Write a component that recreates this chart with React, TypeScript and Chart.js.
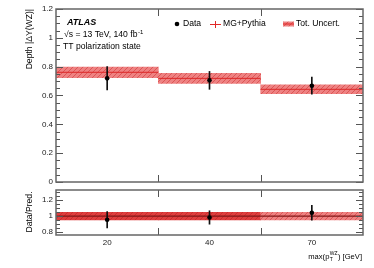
import { useEffect, useRef } from 'react';
import { Chart, registerables } from 'chart.js';
Chart.register(...registerables);

const binLabels = ['20', '40', '70'];
const binEdges = [0, 1, 2, 3];
const predValues = [0.761, 0.719, 0.643];
const predUnc = [0.037, 0.035, 0.031];
const dataValues = [0.719, 0.705, 0.668];
const dataErr = [0.081, 0.062, 0.059];
const ratioValues = [0.953, 0.982, 1.042];
const ratioErr = [0.103, 0.085, 0.095];
const ratioUnc = [0.048, 0.048, 0.048];
const mainTickLabels = ['0', '0.2', '0.4', '0.6', '0.8', '1', '1.2'];
const ratioTickLabels = ['0.8', '1', '1.2'];

const FONT = "'Liberation Sans', Arial, sans-serif";
const W = 374;
const H = 268;

function makePattern(base: string, hatch: string) {
  const c = document.createElement('canvas');
  c.width = 5;
  c.height = 5;
  const g = c.getContext('2d')!;
  g.fillStyle = base;
  g.fillRect(0, 0, 5, 5);
  g.strokeStyle = hatch;
  g.lineWidth = 0.8;
  g.beginPath();
  g.moveTo(0, 5);
  g.lineTo(5, 0);
  g.moveTo(-1, 1);
  g.lineTo(1, -1);
  g.moveTo(4, 6);
  g.lineTo(6, 4);
  g.stroke();
  return g.createPattern(c, 'repeat')!;
}

const centers = binLabels.map((_, i) => (binEdges[i] + binEdges[i + 1]) / 2);

function stepLine(vals: number[]) {
  const pts: { x: number; y: number | null }[] = [];
  vals.forEach((v, i) => {
    pts.push({ x: binEdges[i], y: v });
    pts.push({ x: binEdges[i + 1], y: v });
    pts.push({ x: binEdges[i + 1], y: null });
  });
  return pts;
}

function framePlugin(minorStep: number, majorStep: number) {
  return {
    id: 'frame',
    afterDatasetsDraw(chart: any) {
      const { ctx, chartArea: a, scales } = chart;
      const y = scales.y;
      const x = scales.x;
      ctx.save();
      ctx.strokeStyle = '#555';
      ctx.lineWidth = 1;
      const seg = (x1: number, y1: number, x2: number, y2: number) => {
        ctx.beginPath();
        ctx.moveTo(x1, y1);
        ctx.lineTo(x2, y2);
        ctx.stroke();
      };
      const k0 = Math.ceil(y.min / minorStep - 1e-6);
      const k1 = Math.floor(y.max / minorStep + 1e-6);
      for (let k = k0; k <= k1; k++) {
        const v = k * minorStep;
        const p = Math.round(y.getPixelForValue(v)) + 0.5;
        const r = v / majorStep;
        const isMajor = Math.abs(r - Math.round(r)) < 1e-6;
        const len = isMajor ? 7 : 4;
        seg(a.left, p, a.left + len, p);
        seg(a.right - len, p, a.right, p);
      }
      for (const e of binEdges.slice(1, -1)) {
        const px = Math.round(x.getPixelForValue(e)) + 0.5;
        seg(px, a.top, px, a.top + 7);
        seg(px, a.bottom - 7, px, a.bottom);
      }
      ctx.lineWidth = 1.5;
      ctx.strokeStyle = '#666';
      ctx.strokeRect(a.left, a.top, a.right - a.left, a.bottom - a.top);
      ctx.restore();
    },
  };
}

function text(ctx: CanvasRenderingContext2D, s: string, x: number, y: number, size: number, opts: any = {}) {
  ctx.font = `${opts.style || ''} ${opts.weight || ''} ${size}px ${FONT}`;
  ctx.fillStyle = opts.color || '#000';
  ctx.textAlign = opts.align || 'left';
  ctx.textBaseline = opts.baseline || 'middle';
  ctx.fillText(s, x, y);
  return ctx.measureText(s).width;
}

export default function App() {
  const topRef = useRef<HTMLCanvasElement>(null);
  const botRef = useRef<HTMLCanvasElement>(null);

  useEffect(() => {
    const bandPat = makePattern('rgb(238,130,130)', 'rgb(215,75,75)');
    const darkPat = makePattern('rgb(222,62,62)', 'rgb(200,40,40)');

    const annoTop = {
      id: 'annoTop',
      afterDraw(chart: any) {
        const ctx: CanvasRenderingContext2D = chart.ctx;
        ctx.save();
        ctx.save();
        ctx.translate(30, 9);
        ctx.rotate(-Math.PI / 2);
        text(ctx, 'Depth |ΔY(WZ)|', 0, 0, 8.6, { align: 'right' });
        ctx.restore();
        text(ctx, 'ATLAS', 67, 23, 9, { style: 'italic', weight: 'bold' });
        const w = text(ctx, '√s = 13 TeV, 140 fb', 64, 35, 8.6);
        text(ctx, '-1', 64 + w + 0.5, 32, 6);
        text(ctx, 'TT polarization state', 63, 47, 8.6);
        ctx.fillStyle = '#000';
        ctx.beginPath();
        ctx.arc(177, 24, 2.3, 0, Math.PI * 2);
        ctx.fill();
        text(ctx, 'Data', 183, 24, 8.6);
        ctx.strokeStyle = 'rgb(225,40,40)';
        ctx.lineWidth = 1;
        ctx.beginPath();
        ctx.moveTo(210, 24.5);
        ctx.lineTo(221, 24.5);
        ctx.moveTo(215.5, 21);
        ctx.lineTo(215.5, 28);
        ctx.stroke();
        text(ctx, 'MG+Pythia', 223, 24, 8.6);
        ctx.fillStyle = bandPat;
        ctx.fillRect(283, 21.5, 11, 5);
        ctx.strokeStyle = 'rgb(225,40,40)';
        ctx.beginPath();
        ctx.moveTo(283, 24);
        ctx.lineTo(294, 24);
        ctx.stroke();
        text(ctx, 'Tot. Uncert.', 296, 24, 8.6);
        ctx.restore();
      },
    };

    const annoBot = {
      id: 'annoBot',
      afterDraw(chart: any) {
        const ctx: CanvasRenderingContext2D = chart.ctx;
        ctx.save();
        ctx.save();
        ctx.translate(30, 212);
        ctx.rotate(-Math.PI / 2);
        text(ctx, 'Data/Pred.', 0, 0, 8.6, { align: 'center' });
        ctx.restore();
        const fm = 7.6;
        const fs = 5;
        ctx.font = `${fm}px ${FONT}`;
        const wMain = ctx.measureText('max(p').width + ctx.measureText(') [GeV]').width;
        ctx.font = `${fs}px ${FONT}`;
        const wSub = Math.max(ctx.measureText('T').width, ctx.measureText('WZ').width);
        let x = 362 - wMain - wSub - 0.8;
        const y0 = 257;
        x += text(ctx, 'max(p', x, y0, fm);
        text(ctx, 'T', x + 0.3, y0 + 2.3, fs);
        text(ctx, 'WZ', x + 0.3, y0 - 3.2, fs);
        x += wSub + 0.8;
        text(ctx, ') [GeV]', x, y0, fm);
        ctx.restore();
      },
    };

    const yTickFont = { size: 8, family: FONT };
    const xCommon = {
      type: 'linear',
      min: 0,
      max: 3,
      offset: false,
      afterBuildTicks: (s: any) => {
        s.ticks = centers.map((c) => ({ value: c }));
      },
    };

    const top = new Chart(topRef.current!, {
      type: 'bar',
      data: {
        datasets: [
          {
            type: 'bar',
            data: centers.map((c, i) => ({ x: c, y: [predValues[i] - predUnc[i], predValues[i] + predUnc[i]] })) as any,
            backgroundColor: bandPat as any,
            borderWidth: 0,
            barPercentage: 1,
            categoryPercentage: 1,
            grouped: false,
            order: 5,
          },
          {
            type: 'line',
            data: stepLine(predValues) as any,
            borderColor: 'rgb(220,40,40)',
            borderWidth: 1,
            pointRadius: 0,
            spanGaps: false,
            order: 4,
          },
          {
            type: 'bar',
            data: centers.map((c, i) => ({ x: c, y: [dataValues[i] - dataErr[i], dataValues[i] + dataErr[i]] })) as any,
            backgroundColor: '#111',
            barThickness: 1,
            grouped: false,
            order: 2,
          },
          {
            type: 'line',
            data: centers.map((c, i) => ({ x: c, y: dataValues[i] })) as any,
            showLine: false,
            pointRadius: 2.3,
            pointBackgroundColor: '#000',
            pointBorderWidth: 0,
            order: 1,
          },
        ],
      },
      options: {
        animation: false,
        responsive: false,
        events: [],
        layout: { padding: { left: 0, right: W - 363, top: 9, bottom: H - 182 } },
        plugins: { legend: { display: false }, tooltip: { enabled: false } },
        scales: {
          x: { ...xCommon, display: false },
          y: {
            type: 'linear',
            min: 0,
            max: 1.2,
            afterBuildTicks: (s: any) => {
              s.ticks = mainTickLabels.map((t) => ({ value: parseFloat(t) }));
            },
            ticks: {
              font: yTickFont,
              color: '#222',
              padding: 3,
              callback: (_v: any, i: number) => mainTickLabels[i],
            },
            grid: { display: false, drawTicks: false },
            border: { display: false },
            afterFit: (s: any) => {
              s.width = 56;
            },
          },
        },
      } as any,
      plugins: [framePlugin(0.05, 0.2), annoTop],
    });

    const bot = new Chart(botRef.current!, {
      type: 'bar',
      data: {
        datasets: [
          {
            type: 'bar',
            data: centers.map((c, i) => ({ x: c, y: [1 - ratioUnc[i], 1 + ratioUnc[i]] })) as any,
            backgroundColor: [darkPat, darkPat, bandPat] as any,
            borderWidth: 0,
            barPercentage: 1,
            categoryPercentage: 1,
            grouped: false,
            order: 5,
          },
          {
            type: 'line',
            data: [
              { x: binEdges[0], y: 1 },
              { x: binEdges[binEdges.length - 1], y: 1 },
            ],
            borderColor: 'rgb(130,25,25)',
            borderWidth: 1.3,
            pointRadius: 0,
            order: 4,
          },
          {
            type: 'bar',
            data: centers.map((c, i) => ({ x: c, y: [ratioValues[i] - ratioErr[i], ratioValues[i] + ratioErr[i]] })) as any,
            backgroundColor: '#111',
            barThickness: 1,
            grouped: false,
            order: 2,
          },
          {
            type: 'line',
            data: centers.map((c, i) => ({ x: c, y: ratioValues[i] })) as any,
            showLine: false,
            pointRadius: 2.3,
            pointBackgroundColor: '#000',
            pointBorderWidth: 0,
            order: 1,
          },
        ],
      },
      options: {
        animation: false,
        responsive: false,
        events: [],
        layout: { padding: { left: 0, right: W - 363, top: 190, bottom: 0 } },
        plugins: { legend: { display: false }, tooltip: { enabled: false } },
        scales: {
          x: {
            ...xCommon,
            ticks: {
              font: yTickFont,
              color: '#222',
              padding: 3,
              maxRotation: 0,
              autoSkip: false,
              callback: (_v: any, i: number) => binLabels[i],
            },
            grid: { display: false, drawTicks: false },
            border: { display: false },
            afterFit: (s: any) => {
              s.height = H - 235;
            },
          },
          y: {
            type: 'linear',
            min: 0.76,
            max: 1.33,
            afterBuildTicks: (s: any) => {
              s.ticks = ratioTickLabels.map((t) => ({ value: parseFloat(t) }));
            },
            ticks: {
              font: yTickFont,
              color: '#222',
              padding: 3,
              callback: (_v: any, i: number) => ratioTickLabels[i],
            },
            grid: { display: false, drawTicks: false },
            border: { display: false },
            afterFit: (s: any) => {
              s.width = 56;
            },
          },
        },
      } as any,
      plugins: [framePlugin(0.05, 0.2), annoBot],
    });

    return () => {
      top.destroy();
      bot.destroy();
    };
  }, []);

  const cs: any = { position: 'absolute', left: 0, top: 0, width: W, height: H };
  return (
    <div style={{ position: 'fixed', left: 0, top: 0, width: W, height: H, background: '#fff' }}>
      <canvas ref={topRef} width={W} height={H} style={cs} />
      <canvas ref={botRef} width={W} height={H} style={cs} />
    </div>
  );
}
